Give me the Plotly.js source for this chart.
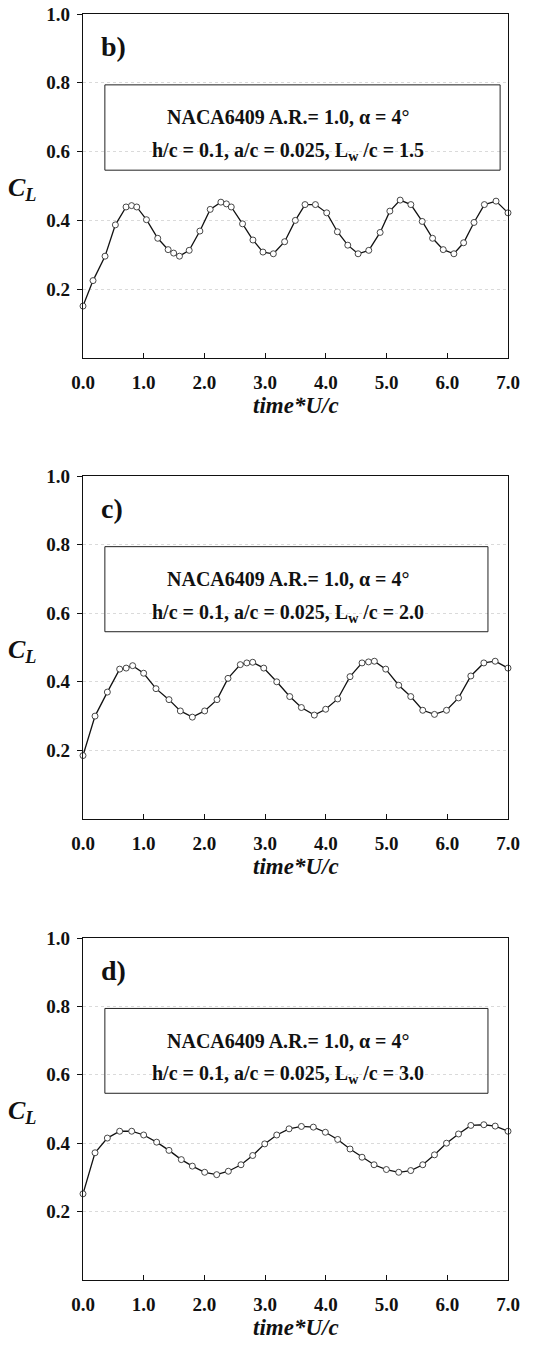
<!DOCTYPE html>
<html>
<head>
<meta charset="utf-8">
<script src="https://cdn.plot.ly/plotly-3.0.1.min.js"></script>
<style>
  html, body { margin: 0; padding: 0; background: #fff; }
  #chart { width: 537px; height: 1347px; }
</style>
</head>
<body>
<div id="chart"></div>
<script>
// Lift coefficient histories for three wave lengths (time*U/c vs C_L)
const timeB = [0.0, 0.165, 0.363, 0.533, 0.709, 0.800, 0.885, 1.045, 1.231, 1.402, 1.493, 1.589, 1.749, 1.925, 2.095, 2.271, 2.362, 2.442, 2.628, 2.799, 2.964, 3.135, 3.321, 3.497, 3.657, 3.828, 4.014, 4.190, 4.361, 4.531, 4.707, 4.894, 5.054, 5.224, 5.400, 5.587, 5.758, 5.933, 6.109, 6.269, 6.440, 6.611, 6.803, 7.0];
const clB   = [0.151, 0.225, 0.296, 0.387, 0.439, 0.443, 0.439, 0.402, 0.348, 0.315, 0.305, 0.296, 0.313, 0.369, 0.432, 0.453, 0.448, 0.439, 0.390, 0.343, 0.308, 0.303, 0.338, 0.400, 0.446, 0.446, 0.422, 0.367, 0.328, 0.303, 0.313, 0.365, 0.427, 0.459, 0.446, 0.397, 0.348, 0.315, 0.303, 0.335, 0.394, 0.446, 0.456, 0.422];

const timeC = [0.0, 0.198, 0.401, 0.604, 0.711, 0.818, 0.999, 1.202, 1.416, 1.603, 1.801, 2.004, 2.207, 2.388, 2.591, 2.698, 2.795, 2.977, 3.191, 3.405, 3.597, 3.810, 3.997, 4.195, 4.398, 4.596, 4.703, 4.799, 4.986, 5.200, 5.398, 5.596, 5.789, 5.987, 6.185, 6.388, 6.602, 6.789, 7.0];
const clC   = [0.185, 0.300, 0.370, 0.437, 0.440, 0.447, 0.425, 0.380, 0.348, 0.315, 0.297, 0.315, 0.348, 0.410, 0.450, 0.455, 0.457, 0.440, 0.400, 0.357, 0.325, 0.303, 0.320, 0.350, 0.415, 0.455, 0.458, 0.460, 0.437, 0.390, 0.357, 0.317, 0.305, 0.317, 0.353, 0.417, 0.455, 0.460, 0.440];

const timeD = [0.0, 0.198, 0.401, 0.604, 0.802, 0.999, 1.213, 1.416, 1.619, 1.801, 2.004, 2.202, 2.394, 2.602, 2.795, 2.993, 3.191, 3.394, 3.597, 3.794, 3.992, 4.195, 4.398, 4.596, 4.794, 4.997, 5.200, 5.398, 5.596, 5.789, 5.987, 6.185, 6.388, 6.602, 6.789, 7.0];
const clD   = [0.252, 0.372, 0.415, 0.435, 0.435, 0.424, 0.403, 0.379, 0.352, 0.333, 0.315, 0.308, 0.318, 0.337, 0.364, 0.398, 0.424, 0.442, 0.449, 0.447, 0.432, 0.411, 0.383, 0.359, 0.337, 0.323, 0.315, 0.320, 0.337, 0.366, 0.400, 0.427, 0.452, 0.454, 0.450, 0.435];

const panelLabels = ['b)', 'c)', 'd)'];
const waveLengths = ['1.5', '2.0', '3.0'];
const headerLine = 'NACA6409 A.R.= 1.0, \u03b1 = 4\u00b0';
const xTickVals = [0, 1, 2, 3, 4, 5, 6, 7];
const xTickText = ['0.0', '1.0', '2.0', '3.0', '4.0', '5.0', '6.0', '7.0'];
const yTickVals = [0.2, 0.4, 0.6, 0.8, 1.0];
const yTickText = ['0.2', '0.4', '0.6', '0.8', '1.0'];

const series = [[timeB, clB], [timeC, clC], [timeD, clD]];

// page geometry (pixels) for each panel's plotting area
const W = 537, H = 1347;
const plotLeft = 83, plotRight = 508;
const panelTop = [14, 476, 938];
const panelBottom = [358, 819, 1280];

const serif = 'Liberation Serif, Times New Roman, serif';
const py = p => 1 - p / H;

const traces = [];
const layout = {
  width: W, height: H,
  margin: {l: 0, r: 0, t: 0, b: 0},
  paper_bgcolor: '#fff', plot_bgcolor: '#fff',
  showlegend: false,
  shapes: [], annotations: []
};

series.forEach((s, i) => {
  const n = i === 0 ? '' : String(i + 1);
  const xa = 'x' + n, ya = 'y' + n;
  traces.push({
    type: 'scatter', mode: 'lines+markers',
    x: s[0], y: s[1], xaxis: xa, yaxis: ya,
    cliponaxis: false,
    line: {color: '#111', width: 1.3},
    marker: {symbol: 'circle', size: 6, color: '#fff', line: {color: '#333', width: 0.9}}
  });

  layout['xaxis' + n] = {
    domain: [plotLeft / W, plotRight / W], anchor: ya,
    range: [0, 7], tickvals: xTickVals, ticktext: xTickText,
    ticks: 'inside', ticklen: 5, tickcolor: '#111',
    ticklabelstandoff: 7,
    showline: true, mirror: true, linecolor: '#111', linewidth: 1.2,
    showgrid: false, zeroline: false, fixedrange: true,
    tickfont: {family: serif, size: 19, color: '#111', weight: 'bold'}
  };
  layout['yaxis' + n] = {
    domain: [py(panelBottom[i]), py(panelTop[i])], anchor: xa,
    range: [0, 1], tickvals: yTickVals, ticktext: yTickText,
    ticks: 'outside', ticklen: 5, tickcolor: '#111',
    ticklabelstandoff: 3,
    showline: true, mirror: true, linecolor: '#111', linewidth: 1.2,
    showgrid: true, gridcolor: '#dadada', griddash: 'dot', gridwidth: 1,
    zeroline: false, fixedrange: true,
    tickfont: {family: serif, size: 19, color: '#111', weight: 'bold'}
  };

  // parameter box
  layout.shapes.push({
    type: 'rect', xref: xa, yref: ya,
    x0: 0.36, x1: i === 0 ? 6.87 : 6.67, y0: 0.546, y1: 0.794,
    line: {color: '#222', width: 1}, fillcolor: 'rgba(0,0,0,0)'
  });
  layout.annotations.push({
    xref: xa, yref: ya, x: 3.38, y: 0.70, showarrow: false,
    xanchor: 'center', yanchor: 'middle',
    text: headerLine,
    font: {family: serif, size: 20, color: '#111', weight: 'bold'}
  });
  layout.annotations.push({
    xref: xa, yref: ya, x: 3.38, y: 0.60, showarrow: false,
    xanchor: 'center', yanchor: 'middle',
    text: 'h/c = 0.1, a/c = 0.025, L<sub>w</sub> /c = ' + waveLengths[i],
    font: {family: serif, size: 20, color: '#111', weight: 'bold'}
  });
  // panel tag
  layout.annotations.push({
    xref: xa, yref: ya, x: 0.27, y: 0.905, xanchor: 'left', yanchor: 'middle',
    showarrow: false,
    text: panelLabels[i],
    font: {family: serif, size: 28, color: '#111', weight: 'bold'}
  });
  // y-axis label
  layout.annotations.push({
    xref: 'paper', yref: ya, x: 6 / W, y: 0.49, xanchor: 'left', yanchor: 'middle',
    showarrow: false,
    text: '<b><i>C</i></b><sub><b><i>L</i></b></sub>',
    font: {family: serif, size: 26, color: '#111'}
  });
  // x-axis label
  layout.annotations.push({
    xref: 'paper', yref: 'paper', x: (plotLeft + plotRight) / 2 / W,
    y: py(panelBottom[i] + 47), xanchor: 'center', yanchor: 'middle',
    showarrow: false,
    text: '<b><i>time*U/c</i></b>',
    font: {family: serif, size: 23, color: '#111'}
  });
});

Plotly.newPlot('chart', traces, layout, {staticPlot: true, displayModeBar: false});
</script>
</body>
</html>
